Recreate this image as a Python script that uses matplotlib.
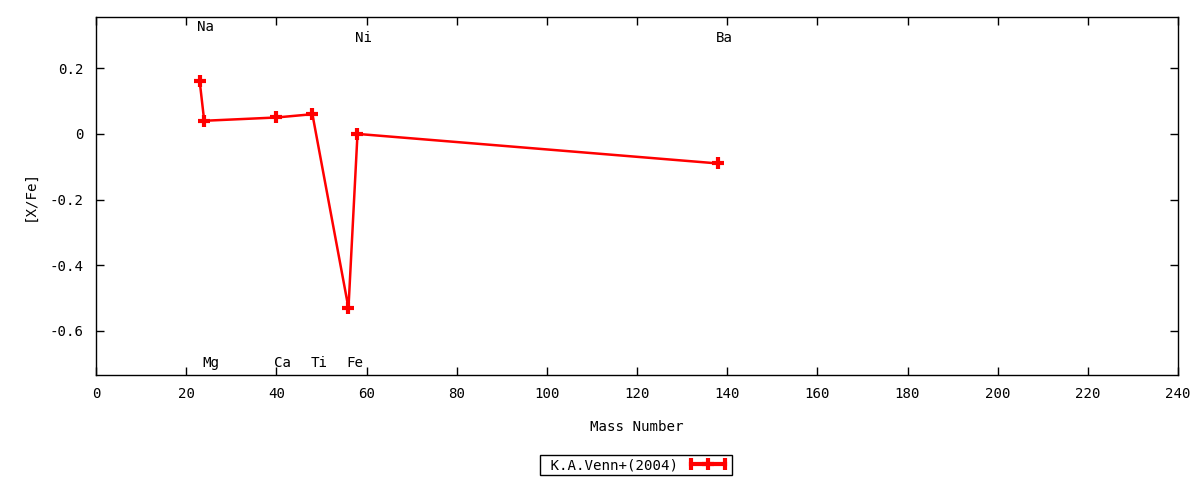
import matplotlib
matplotlib.use("Agg")

import matplotlib.pyplot as plt
from matplotlib.lines import Line2D
from matplotlib.legend_handler import HandlerLine2D, HandlerTuple


elements = ["Na", "Mg", "Ca", "Ti", "Fe", "Ni", "Ba"]
mass_number = [23, 24, 40, 48, 56, 58, 138]
x_fe = [0.16, 0.04, 0.05, 0.06, -0.53, 0.0, -0.09]

# where the element names sit (gnuplot style labels)
label_x = [24.3, 25.4, 41.4, 49.4, 57.4, 59.3, 139.3]
label_y = [0.326, -0.698, -0.698, -0.698, -0.698, 0.293, 0.293]

series_name = "K.A.Venn+(2004)"

plt.rcParams["font.family"] = ["DejaVu Sans Mono"]
plt.rcParams["font.size"] = 10.2

fig = plt.figure(figsize=(12, 4.8), dpi=100)
ax = fig.add_axes([0.08, 0.2188, 0.9017, 0.7458])

ax.plot(
    mass_number,
    x_fe,
    color="red",
    linewidth=1.8,
    marker="+",
    markersize=9,
    markeredgewidth=3
)

for name, lx, ly in zip(elements, label_x, label_y):
    ax.text(lx, ly, name, ha="center", va="center")

ax.set_xlim(0, 240)
ax.set_ylim(-0.734, 0.356)
ax.set_xticks(range(0, 241, 20))
ax.set_yticks([-0.6, -0.4, -0.2, 0, 0.2])
ax.set_yticklabels(["-0.6", "-0.4", "-0.2", "0", "0.2"])

ax.tick_params(direction="in", top=True, right=True, length=6, width=1)
ax.tick_params(axis="x", pad=9)
ax.tick_params(axis="y", pad=9)

for spine in ax.spines.values():
    spine.set_linewidth(1)

ax.set_xlabel("Mass Number", labelpad=13)
ax.set_ylabel("[X/Fe]", labelpad=9)

line_part = Line2D([0], [0], color="red", linewidth=3,
                   marker="|", markersize=8, markeredgewidth=3)
mark_part = Line2D([0], [0], color="red", linestyle="none",
                   marker="+", markersize=9, markeredgewidth=3)

leg = fig.legend(
    [(line_part, mark_part)],
    [" " + series_name],
    handler_map={
        tuple: HandlerTuple(ndivide=1),
        line_part: HandlerLine2D(numpoints=2),
        mark_part: HandlerLine2D(numpoints=1)
    },
    loc="center",
    bbox_to_anchor=(0.53, 0.031),
    markerfirst=False,
    fancybox=False,
    edgecolor="black",
    framealpha=1,
    borderpad=0.2,
    handlelength=3,
    handletextpad=0.6
)
leg.get_frame().set_linewidth(1)

plt.savefig("out.png", dpi=100)
plt.close()
